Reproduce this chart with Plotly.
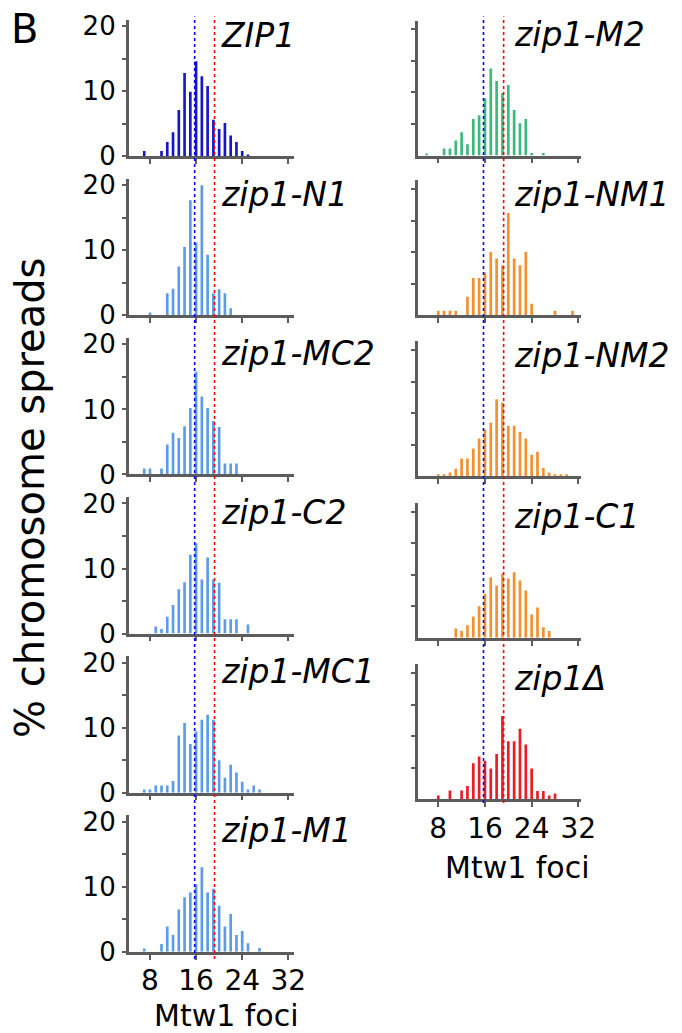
import plotly.graph_objects as go

# ---------------- data ----------------
FOCI = list(range(6, 32))  # Mtw1 foci bins 6..31

ZIP1 = [0, 0.8, 0, 0, 0.8, 2.2, 3.7, 7.1, 12.8, 9.9, 14.6, 12.3, 10.8, 5.6, 4.2, 5.1, 3.2, 2.2, 0.8, 0.25, 0, 0, 0, 0, 0, 0]
ZIP1_N1 = [0, 0, 0.45, 0, 0, 3.4, 4.1, 7.5, 10.5, 17.7, 11.2, 20.0, 9.3, 3.4, 4.0, 3.4, 1.1, 0, 0, 0, 0, 0, 0, 0, 0, 0]
ZIP1_MC2 = [0, 0.9, 0.9, 0, 0.9, 4.6, 6.4, 5.6, 7.4, 10.2, 15.8, 12.0, 10.2, 8.2, 7.3, 1.7, 1.7, 1.7, 0, 0, 0, 0, 0, 0, 0, 0]
ZIP1_C2 = [0, 0, 0, 1.1, 0.7, 2.6, 4.4, 6.8, 7.9, 12.1, 13.9, 8.3, 11.7, 8.3, 7.8, 2.2, 2.2, 2.2, 0, 1.4, 0, 0, 0, 0, 0, 0]
ZIP1_MC1 = [0, 0.5, 0.5, 1.1, 1.1, 1.1, 1.8, 8.8, 10.7, 7.5, 9.4, 11.2, 12.0, 11.2, 5.0, 2.3, 4.3, 3.1, 1.7, 0.5, 1.1, 0.5, 0, 0, 0, 0]
ZIP1_M1 = [0, 0.5, 0, 0, 1.2, 3.9, 2.6, 6.5, 8.4, 9.1, 10.4, 13.0, 9.1, 9.7, 7.1, 3.9, 5.8, 2.6, 3.2, 1.3, 0, 0.6, 0, 0, 0, 0]
ZIP1_M2 = [0.3, 0, 0, 1.1, 1.1, 2.4, 3.7, 1.8, 5.8, 6.4, 9.1, 13.8, 11.8, 9.9, 11.2, 7.2, 5.1, 5.8, 0.4, 0, 0.4, 0, 0, 0, 0, 0]
ZIP1_NM1 = [0, 0, 0.7, 0.7, 0.7, 0.7, 0, 2.9, 5.9, 5.9, 6.8, 10.0, 9.0, 7.9, 16.2, 9.0, 7.9, 10.0, 1.8, 0, 0, 0, 0.7, 0, 0, 0.7]
ZIP1_NM2 = [0, 0, 0.2, 0.2, 0.6, 1.2, 2.8, 2.8, 4.4, 6.0, 7.4, 8.5, 12.2, 11.7, 8.0, 8.0, 7.0, 6.0, 3.4, 3.9, 1.3, 0.6, 0.2, 0.2, 0.2, 0]
ZIP1_C1 = [0, 0, 0, 0, 0, 1.5, 1.1, 2.0, 3.4, 5.0, 7.0, 9.6, 8.3, 10.2, 9.4, 10.4, 9.1, 7.5, 3.7, 4.8, 1.7, 1.1, 0, 0, 0, 0]
ZIP1_DELTA = [0, 0, 0.6, 0, 1.4, 0, 1.4, 2.1, 5.7, 6.8, 6.1, 4.9, 7.2, 13.2, 9.2, 9.2, 11.2, 8.7, 4.9, 1.3, 1.3, 0.6, 0.9, 0, 0, 0]

LEFT_NAMES = ["ZIP1", "zip1-N1", "zip1-MC2", "zip1-C2", "zip1-MC1", "zip1-M1"]
LEFT_DATA = [ZIP1, ZIP1_N1, ZIP1_MC2, ZIP1_C2, ZIP1_MC1, ZIP1_M1]
LEFT_COLORS = ["#1616c8", "#5b9be8", "#5b9be8", "#5b9be8", "#5b9be8", "#5b9be8"]

RIGHT_NAMES = ["zip1-M2", "zip1-NM1", "zip1-NM2", "zip1-C1", "zip1Δ"]
RIGHT_DATA = [ZIP1_M2, ZIP1_NM1, ZIP1_NM2, ZIP1_C1, ZIP1_DELTA]
RIGHT_COLORS = ["#3dba7a", "#f39030", "#f39030", "#f39030", "#ec1c24"]

X_TICKS = [8, 16, 24, 32]
Y_TICKS = [0, 10, 20]
MEAN_ZIP1 = 15.75      # blue dotted reference line
MEAN_ZIP1_DELTA = 19.2  # red dotted reference line

X_TITLE = "Mtw1 foci"
Y_TITLE = "% chromosome spreads"
PANEL_LETTER = "B"

# ---------------- layout helpers ----------------
W, H = 682, 1033
FONT = "DejaVu Sans"
AXIS_COLOR = "#5c5c5c"

# empirical mapping between page pixels and the photographed picture
SX, OX = 0.973, 0.0
SY, OY = 0.977, 7.6


def fx(p):
    return ((p - OX) / SX) / W


def fy(p):
    return 1 - ((p - OY) / SY) / H


LEFT_X = (128, 292)
LEFT_RANGE = [4.3, 32.9]
LEFT_BASE = [155.7 + 159 * i for i in range(6)]
LEFT_YMAX = 21.0
LEFT_SCALE = 6.5

RIGHT_X = (415.7, 577.7)
RIGHT_RANGE = [4.5, 32.4]
RIGHT_BASE = [155, 314.5, 475.5, 637, 798.3]
RIGHT_YMAX = 21.4
RIGHT_SCALE = 6.3

LABEL_SIZE = 33

fig = go.Figure()
layout = dict(
    autosize=True, margin=dict(l=0, r=0, t=0, b=0, pad=0),
    paper_bgcolor="white", plot_bgcolor="white",
    showlegend=False,
    font=dict(family=FONT, color="black"),
)
annotations = []
shapes = []

panels = []
for i, (nm, d, c) in enumerate(zip(LEFT_NAMES, LEFT_DATA, LEFT_COLORS)):
    panels.append(("L", i, nm, d, c))
for j, (nm, d, c) in enumerate(zip(RIGHT_NAMES, RIGHT_DATA, RIGHT_COLORS)):
    panels.append(("R", j, nm, d, c))

for k, (side, idx, nm, d, c) in enumerate(panels, start=1):
    xa = "x" if k == 1 else f"x{k}"
    ya = "y" if k == 1 else f"y{k}"
    fig.add_trace(go.Bar(x=FOCI, y=d, marker=dict(color=c, line=dict(width=0)),
                         xaxis=xa, yaxis=ya, width=0.46, hoverinfo="skip"))
    if side == "L":
        xdom = [fx(LEFT_X[0]), fx(LEFT_X[1])]
        base = LEFT_BASE[idx]
        top = base - LEFT_YMAX * LEFT_SCALE
        xr, ymax = LEFT_RANGE, LEFT_YMAX
        bottom = idx == len(LEFT_NAMES) - 1
        lab_x = 218
    else:
        xdom = [fx(RIGHT_X[0]), fx(RIGHT_X[1])]
        base = RIGHT_BASE[idx]
        top = base - RIGHT_YMAX * RIGHT_SCALE
        xr, ymax = RIGHT_RANGE, RIGHT_YMAX
        bottom = idx == len(RIGHT_NAMES) - 1
        lab_x = 509
    ydom = [fy(base), fy(top)]
    xkey = "xaxis" if k == 1 else f"xaxis{k}"
    ykey = "yaxis" if k == 1 else f"yaxis{k}"
    layout[xkey] = dict(
        domain=xdom, range=xr, anchor=ya, showgrid=False, zeroline=False,
        showline=True, linecolor=AXIS_COLOR, linewidth=2.5,
        ticks="outside", ticklen=5, tickwidth=2, tickcolor=AXIS_COLOR,
        tickvals=X_TICKS, ticktext=[str(v) for v in X_TICKS],
        showticklabels=bottom, tickfont=dict(size=28, family=FONT, color="black"),
        ticklabelstandoff=-3, fixedrange=True,
    )
    if side == "L":
        layout[ykey] = dict(
            domain=ydom, range=[0, ymax], anchor=xa, showgrid=False, zeroline=False,
            showline=True, linecolor=AXIS_COLOR, linewidth=2.5,
            ticks="outside", ticklen=4, tickwidth=2, tickcolor=AXIS_COLOR,
            tickvals=Y_TICKS, ticktext=[str(v) for v in Y_TICKS],
            tickfont=dict(size=26, family=FONT, color="black"),
            ticklabelstandoff=1, fixedrange=True,
            minor=dict(tickvals=[5, 15], ticks="outside", ticklen=4, tickwidth=2,
                       tickcolor=AXIS_COLOR, showgrid=False),
        )
    else:
        layout[ykey] = dict(
            domain=ydom, range=[0, ymax], anchor=xa, showgrid=False, zeroline=False,
            showline=True, linecolor=AXIS_COLOR, linewidth=2.5,
            ticks="outside", ticklen=4, tickwidth=2, tickcolor=AXIS_COLOR,
            tickvals=[5, 10, 15, 20], showticklabels=False, fixedrange=True,
        )
    annotations.append(dict(
        text=nm, x=fx(lab_x), y=fy(base - 121),
        xref="paper", yref="paper", xanchor="left", yanchor="middle", showarrow=False,
        font=dict(size=LABEL_SIZE, family=FONT, color="black", style="italic"),
    ))

# dotted reference lines spanning each column
for xref, ybot in (("x", 958), ("x7", 802)):
    shapes.append(dict(type="line", xref=xref, yref="paper", x0=MEAN_ZIP1, x1=MEAN_ZIP1,
                       y0=fy(ybot), y1=fy(16), line=dict(color="#0000ff", width=1.6, dash="dot"),
                       layer="above"))
    shapes.append(dict(type="line", xref=xref, yref="paper", x0=MEAN_ZIP1_DELTA, x1=MEAN_ZIP1_DELTA,
                       y0=fy(ybot), y1=fy(16), line=dict(color="#ff0000", width=1.6, dash="dot"),
                       layer="above"))

# axis titles and panel letter
annotations.append(dict(text=X_TITLE, x=fx(225.5), y=fy(1014),
                        xref="paper", yref="paper",
                        xanchor="center", yanchor="middle", showarrow=False,
                        font=dict(size=30, family=FONT, color="black")))
annotations.append(dict(text=X_TITLE, x=fx(514.5), y=fy(866), xref="paper", yref="paper",
                        xanchor="center", yanchor="middle", showarrow=False,
                        font=dict(size=30, family=FONT, color="black")))
annotations.append(dict(text=Y_TITLE, x=fx(30), y=fy(497), xref="paper", yref="paper",
                        xanchor="center", yanchor="middle", textangle=-90, showarrow=False,
                        font=dict(size=40, family=FONT, color="black")))
annotations.append(dict(text=PANEL_LETTER, x=fx(9), y=fy(29), xref="paper", yref="paper",
                        xanchor="left", yanchor="middle", showarrow=False,
                        font=dict(size=40, family=FONT, color="black")))

layout["annotations"] = annotations
layout["shapes"] = shapes
fig.update_layout(**layout)

POST = (
    "document.documentElement.style.margin='0';"
    "document.body.style.margin='0';"
    "document.documentElement.style.overflow='hidden';"
    "document.body.style.overflow='hidden';"
    "var d=document.getElementById('{plot_id}');"
    "d.style.position='fixed';d.style.left='0px';d.style.top='0px';"
    "d.style.width='100vw';d.style.height='100vh';"
    "Plotly.Plots.resize(d);"
)

fig.write_html("out.html", config={"displayModeBar": False, "responsive": True},
               default_width="100vw", default_height="100vh",
               post_script=POST)
